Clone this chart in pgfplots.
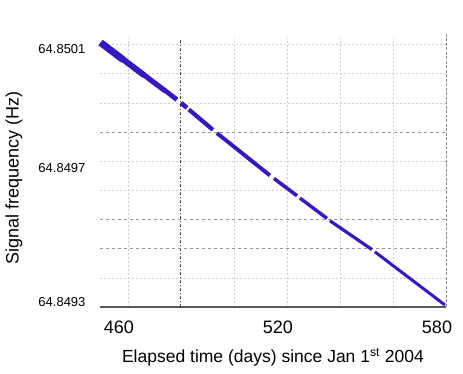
\documentclass[border=0pt]{standalone}
\usepackage{fontspec}
\setmainfont{Liberation Sans}
\usepackage{pgfplots}
\pgfplotsset{compat=1.18}
\definecolor{sig}{RGB}{50,26,192}
\definecolor{lgrid}{RGB}{205,205,205}
\definecolor{mgrid}{RGB}{150,150,150}

\begin{document}
\begin{tikzpicture}
\path[use as bounding box] (-100pt,-67pt) rectangle (363pt,307pt);
\begin{axis}[
    scale only axis,
    width=346pt, height=269pt,
    xmin=449.5, xmax=580,
    ymin=64.8493, ymax=64.85012,
    axis line style={draw=none},
    major tick length=0pt,
    minor tick length=0pt,
    xtick={460,520,580},
    xticklabels={460,520,580},
    xticklabel style={font=\fontsize{18}{20}\selectfont, xshift=-9pt, yshift=-10pt},
    ytick={64.849315,64.849723,64.850085},
    yticklabels={64.8493,64.8497,64.8501},
    yticklabel style={font=\fontsize{13}{15}\selectfont, xshift=-11pt},
    minor xtick={460,500,520,540,560},
    minor ytick={64.84938889,64.84965556,64.84974444,64.84992222,64.85001111,64.8501},
    minor grid style={lgrid, dash pattern=on 2pt off 2pt, line width=0.6pt},
    grid=minor,
    extra x ticks={480},
    extra x tick labels={},
    extra x tick style={grid=major, major grid style={black!75, dash pattern=on 3pt off 2pt on 1pt off 2pt, line width=0.8pt}},
    extra y ticks={64.84947778,64.84956667,64.84983333},
    extra y tick labels={},
    extra y tick style={grid=major, major grid style={mgrid, dash pattern=on 3pt off 3pt, line width=0.6pt}},
    every axis x label/.style={at={(axis description cs:0.5,0)}, anchor=north, yshift=-38pt, font=\fontsize{17.5}{20}\selectfont},
    every axis y label/.style={at={(axis description cs:-0.249,0.481)}, rotate=90, anchor=center, font=\fontsize{18}{20}\selectfont},
    xlabel={Elapsed time (days) since Jan 1\textsuperscript{st} 2004},
    ylabel={Signal frequency (Hz)},
    clip=false,
]
\draw[black!65, line width=1.3pt] (rel axis cs:0,0) -- (rel axis cs:1,0);
\draw[black!45, line width=0.8pt, dash pattern=on 3pt off 1.5pt] (rel axis cs:1,0) -- (rel axis cs:1,1.02);
% early part of the trace is broader
\addplot[sig, line width=7pt, line cap=butt] coordinates {
    (449.7,64.850106) (458.2,64.850054)
};
\addplot[sig, line width=6pt, line cap=butt] coordinates {
    (458.0,64.850056) (466.2,64.850006)
};
\addplot[sig, line width=5.2pt, line cap=butt] coordinates {
    (466.0,64.850008) (474.2,64.849958)
};
\addplot[sig, line width=4.7pt, line cap=butt] coordinates {
    (474.0,64.849960) (478.5,64.849932)
};
\addplot[sig, line width=4.5pt, line cap=butt] coordinates {
    (480.0,64.849922) (482.3,64.849907)
};
\addplot[sig, line width=4.2pt, line cap=butt] coordinates {
    (483.0,64.849902) (492.1,64.849840)
};
\addplot[sig, line width=3.9pt, line cap=butt] coordinates {
    (493.6,64.849830) (513.6,64.849701)
};
\addplot[sig, line width=3.6pt, line cap=butt] coordinates {
    (515.1,64.849692) (523.8,64.849639)
};
\addplot[sig, line width=3.4pt, line cap=butt] coordinates {
    (524.9,64.849632) (535.1,64.849570)
};
\addplot[sig, line width=3.2pt, line cap=butt] coordinates {
    (536.2,64.849563) (552.1,64.849475)
};
\addplot[sig, line width=3pt, line cap=butt] coordinates {
    (553.2,64.849468) (579.6,64.849306)
};
\end{axis}
\end{tikzpicture}
\end{document}
